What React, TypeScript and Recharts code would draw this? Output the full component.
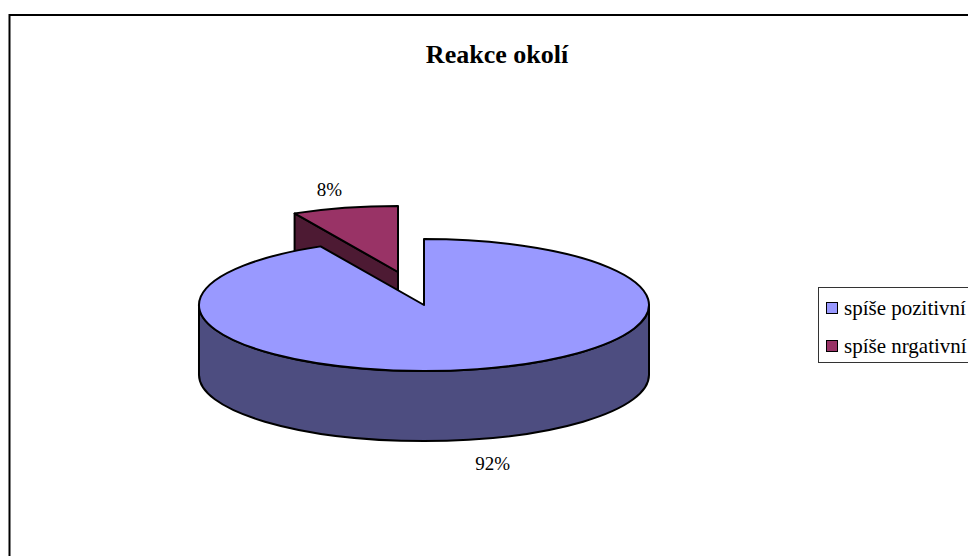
import React from "react";
import { PieChart, Pie, Cell, Legend } from "recharts";

const TITLE = "Reakce okolí";
const categories = ["spíše nrgativní", "spíše pozitivní"];
const shares = [7.6, 92.4];
const topColors = ["#993366", "#9999FF"];
const sideColors = ["#4D1A33", "#4D4D80"];
const legendOrder = ["spíše pozitivní", "spíše nrgativní"];

const chartData = categories.map((name, i) => ({ name, value: shares[i] }));

const SERIF = "'Liberation Serif', 'Times New Roman', serif";
const SQUASH = 66 / 225;
const DEPTH = 70;
const EXPLODE = [{ dx: -26, dy: -33 }, { dx: 0, dy: 0 }];
const RAD = Math.PI / 180;

function Slice3D(props: any) {
  const { cx, cy, outerRadius, startAngle, endAngle, index } = props;
  const off = EXPLODE[index] ?? { dx: 0, dy: 0 };
  const ax = cx + off.dx;
  const ay = cy + off.dy;
  const rx = outerRadius;
  const ry = outerRadius * SQUASH;
  const pt = (deg: number) => [ax + rx * Math.cos(deg * RAD), ay - ry * Math.sin(deg * RAD)];
  const [sx, sy] = pt(startAngle);
  const [ex, ey] = pt(endAngle);
  const large = Math.abs(endAngle - startAngle) > 180 ? 1 : 0;
  const top = `M${ax},${ay} L${sx},${sy} A${rx},${ry} 0 ${large} 1 ${ex},${ey} Z`;
  const common = { stroke: "#000", strokeWidth: 2, strokeLinejoin: "round" as const };
  let side: string;
  if (large) {
    side =
      `M${ax - rx},${ay} A${rx},${ry} 0 0 0 ${ax + rx},${ay} L${ax + rx},${ay + DEPTH} ` +
      `A${rx},${ry} 0 0 1 ${ax - rx},${ay + DEPTH} Z`;
  } else {
    side = `M${sx},${sy} L${ax},${ay} L${ax},${ay + DEPTH} L${sx},${sy + DEPTH} Z`;
  }
  return (
    <g>
      <path d={side} fill={sideColors[index]} {...common} />
      <path d={top} fill={topColors[index]} {...common} />
    </g>
  );
}

function SliceLabel(props: any) {
  const { cx, cy, midAngle, percent, index } = props;
  const off = EXPLODE[index] ?? { dx: 0, dy: 0 };
  const s = Math.sin(midAngle * RAD);
  const x = cx + off.dx + 290 * Math.cos(midAngle * RAD);
  const y = cy + off.dy - 85 * s + (s < 0 ? DEPTH + 6 : 0);
  return (
    <text x={x} y={y} textAnchor="middle" dominantBaseline="central" fontFamily={SERIF} fontSize={19} fill="#000">
      {`${Math.round(percent * 100)}%`}
    </text>
  );
}

function LegendBox() {
  return (
    <div
      style={{
        position: "absolute",
        left: 818,
        top: 287,
        width: 220,
        height: 76,
        boxSizing: "border-box",
        border: "1px solid #333",
        background: "#fff",
        fontFamily: SERIF,
        fontSize: 21,
        color: "#000",
      }}
    >
      {legendOrder.map((name, i) => (
        <div
          key={name}
          style={{ position: "absolute", left: 7, top: 2 + i * 38, height: 36, display: "flex", alignItems: "center", whiteSpace: "nowrap" }}
        >
          <span
            style={{
              display: "inline-block",
              width: 10,
              height: 10,
              border: "1px solid #000",
              background: topColors[categories.indexOf(name)],
              marginRight: 6,
            }}
          />
          {name}
        </div>
      ))}
    </div>
  );
}

export default function App() {
  return (
    <div style={{ position: "absolute", left: 0, top: 0, width: 968, height: 556, overflow: "hidden", background: "#fff" }}>
      <PieChart width={968} height={556} margin={{ top: 0, right: 0, bottom: 0, left: 0 }}>
        <rect x={9.5} y={15} width={2000} height={2000} fill="#fff" stroke="#000" strokeWidth={2} />
        <text x={497} y={54} textAnchor="middle" dominantBaseline="central" fontFamily={SERIF} fontWeight="bold" fontSize={26} fill="#000">
          {TITLE}
        </text>
        <Pie
          data={chartData}
          dataKey="value"
          nameKey="name"
          cx={424}
          cy={305}
          outerRadius={225}
          innerRadius={0}
          startAngle={117.36}
          endAngle={-242.64}
          paddingAngle={0}
          isAnimationActive={false}
          shape={Slice3D}
          label={SliceLabel}
          labelLine={false}
        >
          {chartData.map((d, i) => (
            <Cell key={d.name} fill={topColors[i]} />
          ))}
        </Pie>
        <Legend content={LegendBox} wrapperStyle={{ position: "absolute", left: 0, top: 0, width: 0, height: 0, bottom: "auto" }} />
      </PieChart>
    </div>
  );
}
